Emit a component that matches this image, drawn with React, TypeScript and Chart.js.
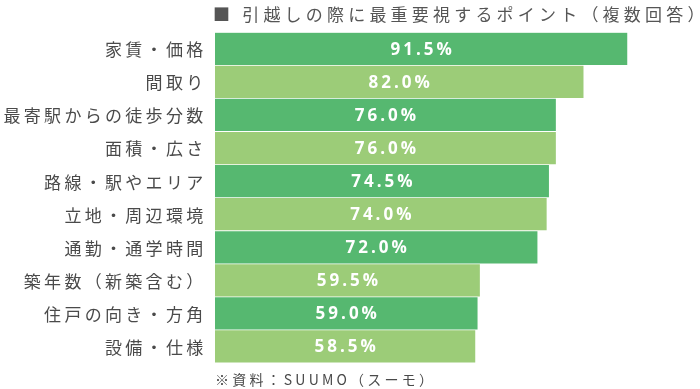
import React, { useEffect, useRef } from "react";
import { Chart, registerables } from "chart.js";

Chart.register(...registerables);

const categories = [
  "家賃・価格",
  "間取り",
  "最寄駅からの徒歩分数",
  "面積・広さ",
  "路線・駅やエリア",
  "立地・周辺環境",
  "通勤・通学時間",
  "築年数（新築含む）",
  "住戸の向き・方角",
  "設備・仕様",
];
const values = [91.5, 82.0, 76.0, 76.0, 74.5, 74.0, 72.0, 59.5, 59.0, 58.5];
const valueLabels = values.map((v) => v.toFixed(1) + "%");
const titleText = "■ 引越しの際に最重要視するポイント（複数回答）";
const sourceText = "※資料：SUUMO（スーモ）";
const barColors = ["#56b870", "#9ccc78"];
const X_MIN = 2;
const X_MAX = 100;

const CJK = '"Noto Sans CJK JP", "Noto Sans", sans-serif';

const textPlugin = {
  id: "customTexts",
  afterDatasetsDraw(chart: any) {
    const ctx = chart.ctx as CanvasRenderingContext2D;
    const area = chart.chartArea;
    const yScale = chart.scales.y;
    const meta = chart.getDatasetMeta(0);
    ctx.save();

    // category labels
    ctx.font = `17px ${CJK}`;
    ctx.fillStyle = "#4a4a4a";
    ctx.textAlign = "right";
    ctx.textBaseline = "middle";
    (ctx as any).letterSpacing = "3.3px";
    categories.forEach((c, i) => {
      ctx.fillText(c, area.left - 8.5, yScale.getPixelForValue(i) + 1);
    });

    // value labels
    ctx.font = `bold 17px "Open Sans", sans-serif`;
    ctx.fillStyle = "#ffffff";
    ctx.textAlign = "center";
    (ctx as any).letterSpacing = "3px";
    meta.data.forEach((bar: any, i: number) => {
      const cx = (bar.x + bar.base) / 2 + 1.5;
      ctx.fillText(valueLabels[i], cx, bar.y + 1);
    });

    // title
    ctx.font = `17px ${CJK}`;
    ctx.fillStyle = "#555555";
    ctx.textAlign = "left";
    (ctx as any).letterSpacing = "4.2px";
    ctx.fillText(titleText, 213, 15);

    // source
    ctx.font = `14px ${CJK}`;
    ctx.fillStyle = "#4a4a4a";
    (ctx as any).letterSpacing = "3.2px";
    ctx.fillText(sourceText, 215, 380);

    ctx.restore();
  },
};

export default function App() {
  const ref = useRef<HTMLCanvasElement | null>(null);
  useEffect(() => {
    if (!ref.current) return;
    const chart = new Chart(ref.current, {
      type: "bar",
      data: {
        labels: categories,
        datasets: [
          {
            data: values,
            backgroundColor: categories.map((_, i) => barColors[i % 2]),
            base: X_MIN,
            barPercentage: 0.975,
            categoryPercentage: 1,
            borderWidth: 0,
          } as any,
        ],
      },
      options: {
        indexAxis: "y",
        responsive: false,
        animation: false,
        layout: { padding: { left: 215, right: 33.6, top: 32.3, bottom: 26 } },
        scales: {
          x: { display: false, min: X_MIN, max: X_MAX },
          y: { display: false },
        },
        plugins: {
          legend: { display: false },
          tooltip: { enabled: false },
          title: { display: false },
        },
      },
      plugins: [textPlugin],
    });
    return () => chart.destroy();
  }, []);
  return (
    <div style={{ position: "absolute", left: 0, top: 0, width: 700, height: 389, background: "#fff" }}>
      <canvas ref={ref} width={700} height={389} />
    </div>
  );
}
